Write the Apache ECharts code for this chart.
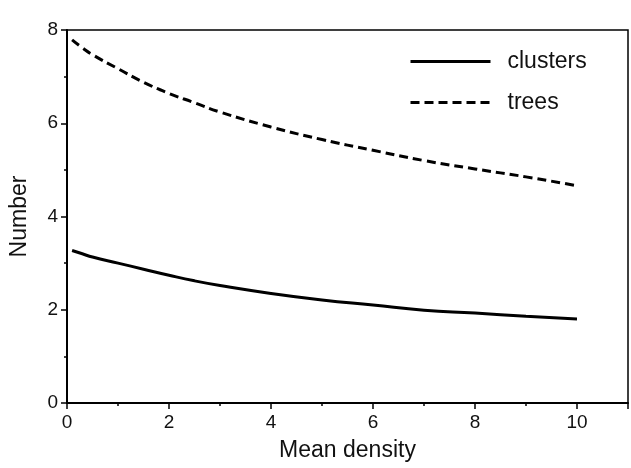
<!DOCTYPE html>
<html>
<head>
<meta charset="utf-8">
<script src="https://cdn.jsdelivr.net/npm/echarts@6/dist/echarts.min.js"></script>
<style>
  html, body { margin: 0; padding: 0; background: #fff; }
  #main { width: 631px; height: 468px; }
</style>
</head>
<body>
<div id="main"></div>
<script>
// values
var density = [0.1, 0.3, 0.5, 1, 1.5, 2, 2.5, 3, 4, 5, 6, 7, 8, 9, 10];
var clusters = [3.27, 3.2, 3.13, 3.0, 2.87, 2.74, 2.62, 2.52, 2.35, 2.21, 2.1, 1.99, 1.93, 1.86, 1.8];
var trees = [7.79, 7.62, 7.47, 7.17, 6.88, 6.64, 6.44, 6.24, 5.92, 5.65, 5.42, 5.2, 5.02, 4.85, 4.66];

function pairs(ys) {
  return density.map(function (x, i) { return [x, ys[i]]; });
}

var font = 'Liberation Sans, Arial, sans-serif';
var chart = echarts.init(document.getElementById('main'));

var option = {
  animation: false,
  grid: {
    left: 62, right: 3, top: 30, bottom: 65,
    show: true, borderColor: '#000', borderWidth: 1.5
  },
  legend: {
    orient: 'vertical',
    left: 404, top: 45,
    itemWidth: 80, itemHeight: 14, itemGap: 18,
    itemStyle: { opacity: 0 },
    lineStyle: { width: 3 },
    textStyle: { fontFamily: font, fontSize: 23, color: '#111', padding: [0, 0, 0, 12] },
    data: ['clusters', 'trees']
  },
  xAxis: {
    type: 'value', min: 0, max: 11, interval: 2,
    name: 'Mean density', nameLocation: 'middle', nameGap: 36,
    nameTextStyle: { fontFamily: font, fontSize: 23, color: '#111' },
    axisLine: { lineStyle: { color: '#000', width: 2 } },
    axisTick: { length: 6, lineStyle: { color: '#000', width: 1.5 } },
    minorTick: { show: true, splitNumber: 2, length: 3, lineStyle: { color: '#000', width: 1.5 } },
    axisLabel: {
      fontFamily: font, fontSize: 19, color: '#111', margin: 10,
      formatter: function (v) { return v > 10 ? '' : v; }
    },
    splitLine: { show: false }
  },
  yAxis: {
    type: 'value', min: 0, max: 8, interval: 2,
    name: 'Number', nameLocation: 'middle', nameGap: 36, nameRotate: 90,
    nameTextStyle: { fontFamily: font, fontSize: 23, color: '#111' },
    axisLine: { show: true, lineStyle: { color: '#000', width: 2 } },
    axisTick: { show: true, length: 6, lineStyle: { color: '#000', width: 1.5 } },
    minorTick: { show: true, splitNumber: 2, length: 3, lineStyle: { color: '#000', width: 1.5 } },
    axisLabel: { fontFamily: font, fontSize: 19, color: '#111', margin: 9 },
    splitLine: { show: false }
  },
  series: [
    {
      name: 'clusters', type: 'line', data: pairs(clusters),
      smooth: true, symbol: 'none',
      lineStyle: { color: '#000', width: 3 },
      itemStyle: { color: '#000' }
    },
    {
      name: 'trees', type: 'line', data: pairs(trees),
      smooth: true, symbol: 'none',
      lineStyle: { color: '#000', width: 3, type: [9, 5] },
      itemStyle: { color: '#000' }
    }
  ]
};

chart.setOption(option);
</script>
</body>
</html>
